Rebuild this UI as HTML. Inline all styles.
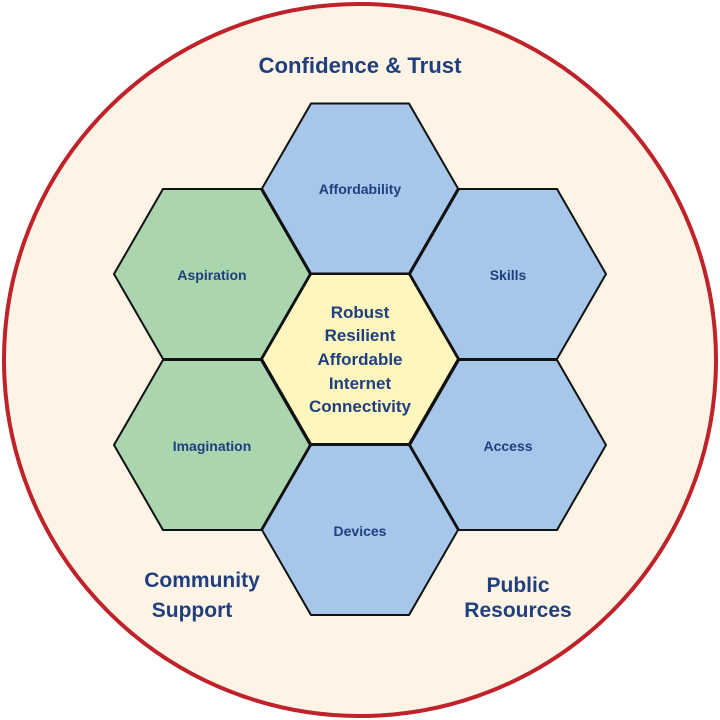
<!DOCTYPE html>
<html><head><meta charset="utf-8"><style>html,body{margin:0;padding:0;background:#fff}svg{display:block}</style></head>
<body>
<svg width="720" height="720" viewBox="0 0 720 720" xmlns="http://www.w3.org/2000/svg" font-family="Liberation Sans, sans-serif" font-weight="bold" fill="#1f3f7e">
<circle cx="360" cy="360" r="356" fill="#fdf4e6" stroke="#bf2229" stroke-width="4"/>
<g stroke="#111" stroke-width="2" stroke-linejoin="miter">
<polygon points="262,188.5 311,103.5 409,103.5 458,188.5 409,273.5 311,273.5" fill="#a6c7e9"/>
<polygon points="410,274 459,189 557,189 606,274 557,359 459,359" fill="#a6c7e9"/>
<polygon points="410,445 459,360 557,360 606,445 557,530 459,530" fill="#a6c7e9"/>
<polygon points="262,530 311,445 409,445 458,530 409,615 311,615" fill="#a6c7e9"/>
<polygon points="114,445 163,360 261,360 310,445 261,530 163,530" fill="#aad5af"/>
<polygon points="114,274 163,189 261,189 310,274 261,359 163,359" fill="#aad5af"/>
<polygon points="262,359 311,274 409,274 458,359 409,444 311,444" fill="#fdf6be"/>
</g>
<g stroke="none" text-anchor="middle">
<text x="360" y="73" font-size="22" textLength="203" lengthAdjust="spacingAndGlyphs">Confidence &amp; Trust</text>
<text x="360" y="194" font-size="14">Affordability</text>
<text x="508" y="280" font-size="14">Skills</text>
<text x="508" y="451" font-size="14">Access</text>
<text x="360" y="536" font-size="14">Devices</text>
<text x="212" y="451" font-size="14">Imagination</text>
<text x="212" y="280" font-size="14">Aspiration</text>
<g font-size="17">
<text x="360" y="318">Robust</text>
<text x="360" y="341">Resilient</text>
<text x="360" y="365">Affordable</text>
<text x="360" y="389">Internet</text>
<text x="360" y="412">Connectivity</text>
</g>
<g font-size="21">
<text x="202" y="587">Community</text>
<text x="192" y="617">Support</text>
<text x="518" y="592">Public</text>
<text x="518" y="617">Resources</text>
</g>
</g>
</svg>
</body></html>
